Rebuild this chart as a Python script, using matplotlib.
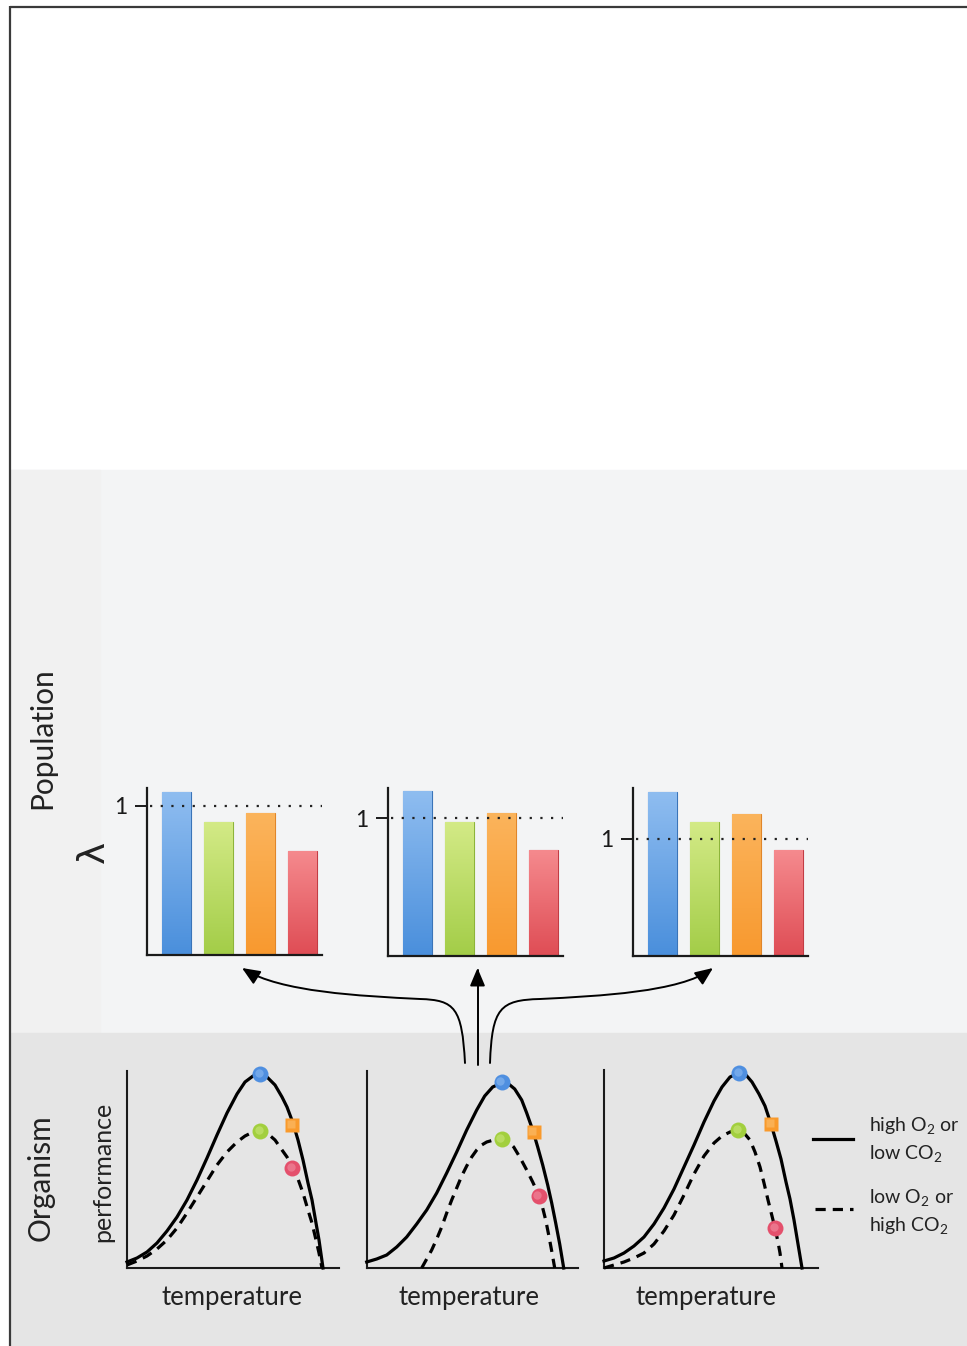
import matplotlib
matplotlib.use("Agg")
import matplotlib.pyplot as plt
import numpy as np
from matplotlib.patches import Rectangle, FancyArrowPatch, ArrowStyle
from matplotlib.path import Path

plt.rcParams['font.family'] = ['Lato', 'DejaVu Sans']
plt.rcParams['mathtext.fontset'] = 'custom'
plt.rcParams['mathtext.rm'] = 'Lato'
plt.rcParams['mathtext.it'] = 'Lato:italic'
plt.rcParams['mathtext.bf'] = 'Lato:bold'

# ---------------- data ----------------
bar_names = ["blue", "green", "orange", "red"]
bar_colors = ["#4a8fdc", "#a3cd48", "#f8992f", "#df4d55"]
bar_tops = ["#8fbdf0", "#d3ea86", "#fbb45c", "#f58a8e"]
bar_edges = ["#3a74b8", "#8db43a", "#e0862a", "#c23c44"]
# lambda values per population panel
lambda_p1 = [1.09, 0.89, 0.95, 0.70]
lambda_p2 = [1.20, 0.97, 1.04, 0.77]
lambda_p3 = [1.40, 1.14, 1.21, 0.90]
lambda_ymax = [1.12, 1.22, 1.43]

# performance curves (temperature offset, performance)
p1_solid_t = [0, 10, 20, 30, 40, 50, 60, 70, 80, 90, 100, 110, 118, 126, 133, 140, 148, 155, 160,
              166, 171, 176, 181, 185, 189, 192, 194, 196]
p1_solid_y = [6, 10, 16, 25, 37, 51, 68, 88, 110, 133, 155, 174, 186, 192, 194, 191, 183, 171, 161,
              145, 128, 108, 85, 68, 45, 28, 14, 0]
p1_dash_t = [0, 10, 20, 30, 40, 50, 60, 70, 80, 90, 100, 110, 118, 126, 133, 140, 148, 155, 160,
             166, 171, 176, 181, 185, 189, 192, 195]
p1_dash_y = [3, 7, 12, 19, 28, 40, 55, 71, 87, 103, 116, 126, 132, 136, 137, 135, 128, 118, 111,
             100, 89, 75, 58, 45, 28, 15, 0]

p2_solid_t = [0, 10, 20, 30, 40, 50, 60, 70, 80, 90, 100, 110, 118, 126, 135, 142, 148, 155, 160,
              166, 171, 176, 181, 185, 189, 193, 197]
p2_solid_y = [6, 9, 13, 21, 31, 44, 58, 75, 95, 116, 138, 158, 172, 181, 185, 184, 179, 168, 155,
              138, 121, 103, 83, 65, 45, 24, 0]
p2_dash_t = [55, 60, 65, 70, 75, 80, 85, 90, 95, 100, 105, 110, 115, 120, 127, 135, 141, 147, 153,
             160, 166, 172, 176, 179, 182, 185, 188]
p2_dash_y = [0, 9, 18, 29, 41, 55, 68, 80, 92, 102, 111, 118, 123, 126, 128, 129, 127, 121, 111,
             98, 86, 73, 60, 48, 33, 17, 0]

p3_solid_t = [0, 10, 20, 30, 40, 50, 60, 70, 80, 90, 100, 110, 118, 126, 135, 142, 148, 155, 161,
              167, 172, 177, 182, 186, 190, 194, 198]
p3_solid_y = [7, 10, 15, 22, 31, 44, 60, 79, 101, 123, 146, 167, 181, 191, 195, 193, 186, 174, 162,
              144, 127, 109, 86, 69, 48, 24, 0]
p3_dash_t = [0, 10, 20, 30, 40, 50, 60, 70, 80, 90, 100, 110, 118, 126, 134, 140, 146, 151, 156,
             160, 164, 168, 171, 174, 176, 178]
p3_dash_y = [0, 3, 6, 10, 15, 24, 37, 53, 73, 94, 112, 125, 132, 136, 138, 135, 128, 116, 101,
             85, 68, 52, 40, 26, 15, 0]

# highlighted points (blue, orange on solid; green, red on dashed)
dots_p1 = {"blue": (133, 194), "orange": (165, 143), "green": (133, 137), "red": (165, 100)}
dots_p2 = {"blue": (135, 186), "orange": (167, 136), "green": (135, 129), "red": (172, 72)}
dots_p3 = {"blue": (135, 195), "orange": (167, 144), "green": (134, 138), "red": (171, 40)}
dot_colors = {"blue": "#4f8fe0", "green": "#a2cf3e", "orange": "#f99a2c", "red": "#e4506c"}
dot_light = {"blue": "#8cb9f0", "green": "#c9e67a", "orange": "#fcc070", "red": "#f08da0"}

W, H = 967, 1346
fig = plt.figure(figsize=(W / 100, H / 100), dpi=100)

def fax(left, right, top, bottom):
    return [left / W, (H - bottom) / H, (right - left) / W, (bottom - top) / H]

# ---------------- background overlay ----------------
bg = fig.add_axes([0, 0, 1, 1], zorder=0)
bg.set_xlim(0, W)
bg.set_ylim(H, 0)
bg.axis('off')
bg.add_patch(Rectangle((0, 0), W, H, color='white', zorder=0))
bg.add_patch(Rectangle((10, 470), W - 10, 1033 - 470, color='#f3f4f5', zorder=1))
bg.add_patch(Rectangle((10, 470), 90, 1033 - 470, color='#f1f1f1', zorder=1))
bg.add_patch(Rectangle((10, 1033), W - 10, H - 1033, color='#e5e5e5', zorder=1))
bg.plot([9.5, W], [7, 7], color='#3a3a3a', lw=1.6, zorder=5, solid_capstyle='butt')
bg.plot([9.5, 9.5], [6, H], color='#3a3a3a', lw=1.6, zorder=5, solid_capstyle='butt')

bg.text(42, 738, "Population", rotation=90, ha='center', va='center', fontsize=21.5, color='#222222', zorder=6)
bg.text(41, 1178, "Organism", rotation=90, ha='center', va='center', fontsize=21.5, color='#222222', zorder=6)
bg.text(94, 852, "λ", rotation=90, ha='center', va='center', fontsize=27, color='#222222',
        family=['DejaVu Sans'], zorder=6)

# arrows
arrow_style = ArrowStyle('-|>', head_length=0.9, head_width=0.38)
paths = [
    Path([(465, 1063), (462, 1008), (455, 1000), (420, 999), (360, 996), (280, 992), (242, 968)],
         [Path.MOVETO, Path.CURVE4, Path.CURVE4, Path.CURVE4, Path.CURVE4, Path.CURVE4, Path.CURVE4]),
    Path([(477.5, 1065), (477.5, 968)], [Path.MOVETO, Path.LINETO]),
    Path([(490, 1063), (492, 1008), (500, 1000), (540, 999), (600, 996), (680, 992), (713, 968)],
         [Path.MOVETO, Path.CURVE4, Path.CURVE4, Path.CURVE4, Path.CURVE4, Path.CURVE4, Path.CURVE4]),
]
for p in paths:
    bg.add_patch(FancyArrowPatch(path=p, arrowstyle=arrow_style, mutation_scale=12,
                                 lw=1.4, color='black', zorder=7))

# ---------------- bar panels ----------------
bar_boxes = [(147, 322, 788, 955), (388, 563, 788, 956), (633, 808, 788, 956)]
lambdas = [lambda_p1, lambda_p2, lambda_p3]
xpos = np.arange(1, 5)
for (l, r, t, b), vals, ymax in zip(bar_boxes, lambdas, lambda_ymax):
    ax = fig.add_axes(fax(l, r, t, b), zorder=2)
    ax.patch.set_alpha(0)
    bars = ax.bar(xpos, vals, width=0.69, color=bar_colors, edgecolor=bar_edges, linewidth=0.8, zorder=2)
    for bar, top_c, base_c in zip(bars, bar_tops, bar_colors):
        x0, w = bar.get_x(), bar.get_width()
        h = bar.get_height()
        cmap = matplotlib.colors.LinearSegmentedColormap.from_list('g', [base_c, top_c])
        grad = np.linspace(0, 1, 100).reshape(-1, 1)
        im = ax.imshow(grad, cmap=cmap, extent=(x0, x0 + w, 0, h), origin='lower',
                       aspect='auto', zorder=2.5)
        im.set_clip_path(bar)
    ax.axhline(1.0, xmin=0.015, xmax=1.0, color='#222222', lw=1.6, ls=(0, (1, 3.8)), zorder=4)
    ax.set_xlim(0.30, 0.30 + (r - l) / 42.0)
    ax.set_ylim(0, ymax)
    for s in ['top', 'right']:
        ax.spines[s].set_visible(False)
    for s in ['left', 'bottom']:
        ax.spines[s].set_linewidth(1.6)
        ax.spines[s].set_color('#1a1a1a')
    ax.set_xticks([])
    ax.set_yticks([1.0])
    ax.set_yticklabels(["1"])
    ax.tick_params(axis='y', length=9, width=1.4, labelsize=16.5, pad=5, colors='#1a1a1a')

# ---------------- organism panels ----------------
curve_boxes = [(127, 339, 1071, 1268), (366.7, 578, 1071, 1268), (604, 818, 1070, 1268)]
curves = [
    (p1_solid_t, p1_solid_y, p1_dash_t, p1_dash_y, dots_p1),
    (p2_solid_t, p2_solid_y, p2_dash_t, p2_dash_y, dots_p2),
    (p3_solid_t, p3_solid_y, p3_dash_t, p3_dash_y, dots_p3),
]
label_x = [232, 469, 706]
for (l, r, t, b), (st, sy, dt, dy, dots), lx in zip(curve_boxes, curves, label_x):
    ax = fig.add_axes(fax(l, r, t, b), zorder=2)
    ax.patch.set_alpha(0)
    ax.plot(st, sy, color='black', lw=2.3, solid_joinstyle='round', zorder=3, clip_on=False)
    ax.plot(dt, dy, color='black', lw=2.3, ls=(0, (3.2, 2.2)), dash_joinstyle='round',
            zorder=3, clip_on=False)
    for name in ["blue", "orange", "green", "red"]:
        x, y = dots[name]
        marker = 's' if name == 'orange' else 'o'
        ms = 10.5 if name == 'orange' else 11.5
        ax.plot([x], [y], marker=marker, ms=ms, color=dot_colors[name], mec='none',
                zorder=5, clip_on=False)
        ax.plot([x - 1.2], [y + 1.5], marker=marker, ms=6, color=dot_light[name], mec='none',
                alpha=0.6, zorder=6, clip_on=False)
    ax.set_xlim(0, r - l)
    ax.set_ylim(0, b - t)
    for s in ['top', 'right']:
        ax.spines[s].set_visible(False)
    for s in ['left', 'bottom']:
        ax.spines[s].set_linewidth(1.5)
        ax.spines[s].set_color('#1a1a1a')
    ax.set_xticks([])
    ax.set_yticks([])
    bg.text(lx, 1297, "temperature", ha='center', va='center', fontsize=18.5, color='#222222', zorder=6)

bg.text(103, 1172, "performance", rotation=90, ha='center', va='center', fontsize=18,
        color='#222222', zorder=6)

# legend
bg.plot([813, 853], [1139, 1139], color='black', lw=2.3, zorder=6)
bg.plot([815, 853], [1209, 1209], color='black', lw=2.3, ls=(0, (3.2, 2.2)), zorder=6)
bg.text(869, 1125, r"high O$_\mathrm{2}$ or", ha='left', va='center', fontsize=14, color='#222222', zorder=6)
bg.text(869, 1154, r"low CO$_\mathrm{2}$", ha='left', va='center', fontsize=14, color='#222222', zorder=6)
bg.text(869, 1197, r"low O$_\mathrm{2}$ or", ha='left', va='center', fontsize=14, color='#222222', zorder=6)
bg.text(869, 1225, r"high CO$_\mathrm{2}$", ha='left', va='center', fontsize=14, color='#222222', zorder=6)

fig.savefig("out.png", dpi=100)
